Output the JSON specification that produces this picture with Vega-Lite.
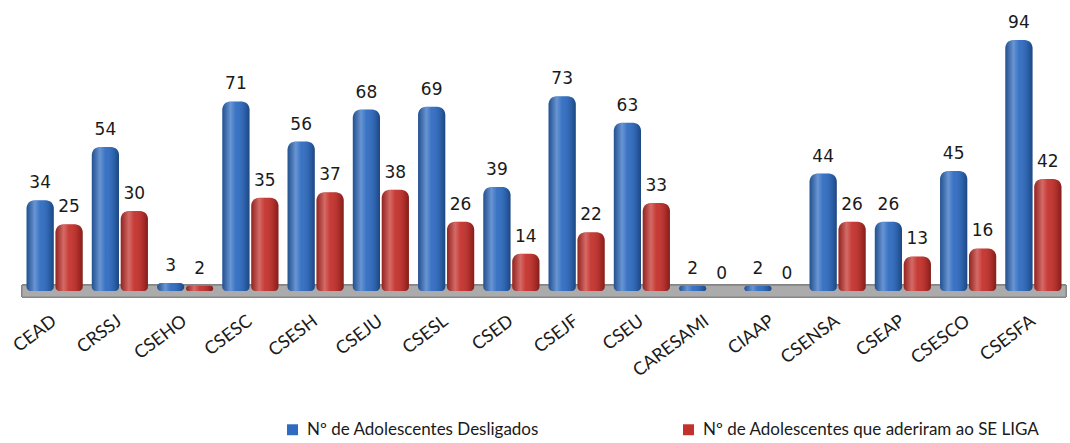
{
  "$schema": "https://vega.github.io/schema/vega-lite/v6.json",
  "width": 1044,
  "height": 297,
  "autosize": {"type": "none"},
  "padding": {"left": 22, "top": 0, "right": 4, "bottom": 146},
  "background": "white",
  "config": {"view": {"stroke": null}},
  "data": {"values": [
    {"unidade": "CEAD", "serie": "Nº de Adolescentes Desligados", "valor": 34},
    {"unidade": "CEAD", "serie": "Nº de Adolescentes que aderiram ao SE LIGA", "valor": 25},
    {"unidade": "CRSSJ", "serie": "Nº de Adolescentes Desligados", "valor": 54},
    {"unidade": "CRSSJ", "serie": "Nº de Adolescentes que aderiram ao SE LIGA", "valor": 30},
    {"unidade": "CSEHO", "serie": "Nº de Adolescentes Desligados", "valor": 3},
    {"unidade": "CSEHO", "serie": "Nº de Adolescentes que aderiram ao SE LIGA", "valor": 2},
    {"unidade": "CSESC", "serie": "Nº de Adolescentes Desligados", "valor": 71},
    {"unidade": "CSESC", "serie": "Nº de Adolescentes que aderiram ao SE LIGA", "valor": 35},
    {"unidade": "CSESH", "serie": "Nº de Adolescentes Desligados", "valor": 56},
    {"unidade": "CSESH", "serie": "Nº de Adolescentes que aderiram ao SE LIGA", "valor": 37},
    {"unidade": "CSEJU", "serie": "Nº de Adolescentes Desligados", "valor": 68},
    {"unidade": "CSEJU", "serie": "Nº de Adolescentes que aderiram ao SE LIGA", "valor": 38},
    {"unidade": "CSESL", "serie": "Nº de Adolescentes Desligados", "valor": 69},
    {"unidade": "CSESL", "serie": "Nº de Adolescentes que aderiram ao SE LIGA", "valor": 26},
    {"unidade": "CSED", "serie": "Nº de Adolescentes Desligados", "valor": 39},
    {"unidade": "CSED", "serie": "Nº de Adolescentes que aderiram ao SE LIGA", "valor": 14},
    {"unidade": "CSEJF", "serie": "Nº de Adolescentes Desligados", "valor": 73},
    {"unidade": "CSEJF", "serie": "Nº de Adolescentes que aderiram ao SE LIGA", "valor": 22},
    {"unidade": "CSEU", "serie": "Nº de Adolescentes Desligados", "valor": 63},
    {"unidade": "CSEU", "serie": "Nº de Adolescentes que aderiram ao SE LIGA", "valor": 33},
    {"unidade": "CARESAMI", "serie": "Nº de Adolescentes Desligados", "valor": 2},
    {"unidade": "CARESAMI", "serie": "Nº de Adolescentes que aderiram ao SE LIGA", "valor": 0},
    {"unidade": "CIAAP", "serie": "Nº de Adolescentes Desligados", "valor": 2},
    {"unidade": "CIAAP", "serie": "Nº de Adolescentes que aderiram ao SE LIGA", "valor": 0},
    {"unidade": "CSENSA", "serie": "Nº de Adolescentes Desligados", "valor": 44},
    {"unidade": "CSENSA", "serie": "Nº de Adolescentes que aderiram ao SE LIGA", "valor": 26},
    {"unidade": "CSEAP", "serie": "Nº de Adolescentes Desligados", "valor": 26},
    {"unidade": "CSEAP", "serie": "Nº de Adolescentes que aderiram ao SE LIGA", "valor": 13},
    {"unidade": "CSESCO", "serie": "Nº de Adolescentes Desligados", "valor": 45},
    {"unidade": "CSESCO", "serie": "Nº de Adolescentes que aderiram ao SE LIGA", "valor": 16},
    {"unidade": "CSESFA", "serie": "Nº de Adolescentes Desligados", "valor": 94},
    {"unidade": "CSESFA", "serie": "Nº de Adolescentes que aderiram ao SE LIGA", "valor": 42}
  ]},
  "encoding": {
    "x": {
      "field": "unidade", "type": "nominal", "sort": null,
      "scale": {"paddingInner": 0.14, "paddingOuter": 0.07},
      "axis": {
        "title": null, "domain": false, "ticks": false,
        "labelAngle": -37, "labelAlign": "right", "labelBaseline": "middle",
        "labelPadding": 22, "labelFont": "Lato", "labelFontSize": 18,
        "labelColor": "#1a1a1a", "labelOverlap": false
      }
    },
    "xOffset": {"field": "serie", "type": "nominal", "scale": {"paddingInner": 0.06}},
    "y": {
      "field": "valor", "type": "quantitative",
      "scale": {"domain": [-2.2, 109], "nice": false, "zero": false},
      "axis": null
    }
  },
  "layer": [
    {
      "mark": {"type": "rect", "fill": "#ababab", "stroke": "#858585", "strokeWidth": 1},
      "encoding": {
        "x": null, "xOffset": null,
        "y": {"datum": -2.2, "type": "quantitative"},
        "y2": {"datum": 2.2}
      }
    },
    {
      "mark": {"type": "bar", "cornerRadiusTopLeft": 8, "cornerRadiusTopRight": 8, "cornerRadiusBottomLeft": 4, "cornerRadiusBottomRight": 4},
      "encoding": {
        "y2": {"datum": 0},
        "color": {
          "field": "serie", "type": "nominal",
          "scale": {"range": ["#2f6cc1", "#c4312c"]},
          "legend": {
            "title": null, "orient": "none", "direction": "horizontal",
            "legendX": 262, "legendY": 421,
            "symbolType": "square", "symbolSize": 120, "symbolStrokeWidth": 0,
            "labelFont": "Lato", "labelFontSize": 17, "labelColor": "#1a1a1a",
            "columnPadding": 141, "labelOffset": 6, "labelLimit": 500
          }
        }
      }
    },
    {
      "mark": {
        "type": "bar", "cornerRadiusTopLeft": 8, "cornerRadiusTopRight": 8, "cornerRadiusBottomLeft": 4, "cornerRadiusBottomRight": 4,
        "fill": {
          "gradient": "linear", "x1": 0, "y1": 0, "x2": 1, "y2": 0,
          "stops": [
            {"offset": 0, "color": "rgba(0,0,0,0.25)"},
            {"offset": 0.3, "color": "rgba(255,255,255,0.28)"},
            {"offset": 0.5, "color": "rgba(255,255,255,0.05)"},
            {"offset": 0.85, "color": "rgba(0,0,0,0.15)"},
            {"offset": 1, "color": "rgba(0,0,0,0.35)"}
          ]
        }
      },
      "encoding": {"y2": {"datum": 0}}
    },
    {
      "mark": {"type": "text", "baseline": "bottom", "dy": -8, "font": "DejaVu Sans", "fontSize": 17, "color": "#1a1a1a"},
      "encoding": {"text": {"field": "valor", "type": "quantitative"}}
    }
  ]
}
